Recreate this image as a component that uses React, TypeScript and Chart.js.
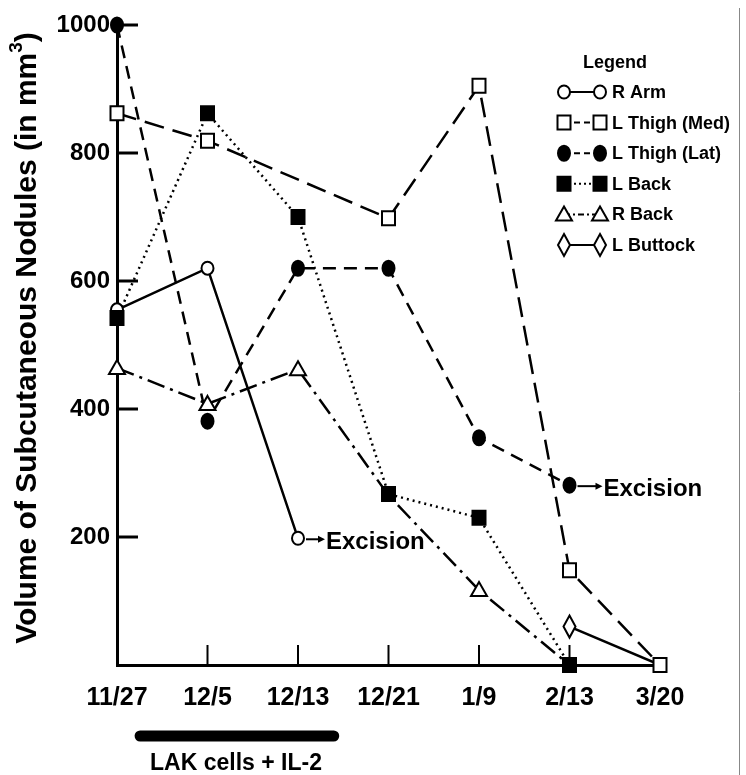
import React, { useEffect, useRef } from "react";
import { Chart, registerables } from "chart.js";

Chart.register(...registerables);

// ---- data ----
const categories = ["11/27", "12/5", "12/13", "12/21", "1/9", "2/13", "3/20"];
const rArm = [555, 620, 198, null, null, null, null];
const lThighMed = [862, 819, null, 698, 905, 148, 0];
const lThighLat = [1000, 381, 620, 620, 355, 281, null];
const lBack = [542, 862, 700, 267, 230, 0, null];
const rBack = [464, 408, 462, 265, 117, 0, null];
const lButtock = [null, null, null, null, null, 60, 0];
const yTickValues = [200, 400, 600, 800, 1000];
const seriesNames = ["R Arm", "L Thigh (Med)", "L Thigh (Lat)", "L Back", "R Back", "L Buttock"];
const excisionNotes = [
  { series: 0, index: 2, text: "Excision", gap: 0 },
  { series: 2, index: 5, text: "Excision", gap: 6 },
];
const treatmentLabel = "LAK cells + IL-2";
const treatmentRange = [0.2, 2.45]; // in category units
const yTitle = "Volume of Subcutaneous Nodules (in mm";

const FONT = '"Liberation Sans", Arial, Helvetica, sans-serif';

type MarkerKind = "circle" | "rect" | "triangle" | "diamond";

function drawMarker(ctx: CanvasRenderingContext2D, kind: MarkerKind, x: number, y: number, filled: boolean) {
  ctx.save();
  ctx.setLineDash([]);
  ctx.lineWidth = 2;
  ctx.strokeStyle = "#000";
  ctx.fillStyle = filled ? "#000" : "#fff";
  ctx.beginPath();
  if (kind === "circle") {
    ctx.ellipse(x, y, 6, filled ? 7.5 : 6.5, 0, 0, Math.PI * 2);
  } else if (kind === "rect") {
    ctx.rect(x - 6.5, y - 7, 13, 14);
  } else if (kind === "triangle") {
    ctx.moveTo(x, y - 8);
    ctx.lineTo(x + 8, y + 6);
    ctx.lineTo(x - 8, y + 6);
    ctx.closePath();
  } else {
    ctx.moveTo(x, y - 11);
    ctx.lineTo(x + 6, y);
    ctx.lineTo(x, y + 11);
    ctx.lineTo(x - 6, y);
    ctx.closePath();
  }
  ctx.fill();
  ctx.stroke();
  ctx.restore();
}

const styles: { kind: MarkerKind; filled: boolean; dash: number[] }[] = [
  { kind: "circle", filled: false, dash: [] },
  { kind: "rect", filled: false, dash: [20, 9] },
  { kind: "circle", filled: true, dash: [13, 8] },
  { kind: "rect", filled: true, dash: [2, 4] },
  { kind: "triangle", filled: false, dash: [18, 6, 3, 6] },
  { kind: "diamond", filled: false, dash: [] },
];
const markerOrder = [0, 2, 4, 5, 1, 3];
const hiddenMarkers: Record<number, number[]> = { 4: [3, 5], 5: [6] };

export default function App() {
  const ref = useRef<HTMLCanvasElement | null>(null);

  useEffect(() => {
    document.body.style.margin = "0";
    document.body.style.background = "#fff";
    const canvas = ref.current!;
    const values = [rArm, lThighMed, lThighLat, lBack, rBack, lButtock];

    const overlay = {
      id: "overlay",
      afterDraw(chart: any) {
        const ctx: CanvasRenderingContext2D = chart.ctx;
        const xs = chart.scales.x;
        const ys = chart.scales.y;
        const area = chart.chartArea;
        ctx.save();
        ctx.strokeStyle = "#000";
        ctx.fillStyle = "#000";
        ctx.setLineDash([]);
        // inward ticks on y axis
        ctx.lineWidth = 3;
        yTickValues.forEach((v) => {
          const y = ys.getPixelForValue(v);
          ctx.beginPath();
          ctx.moveTo(area.left, y);
          ctx.lineTo(area.left + 21, y);
          ctx.stroke();
        });
        // inward ticks on x axis
        ctx.lineWidth = 2;
        for (let i = 1; i < categories.length - 1; i++) {
          const x = xs.getPixelForValue(i);
          ctx.beginPath();
          ctx.moveTo(x, area.bottom);
          ctx.lineTo(x, area.bottom - 20);
          ctx.stroke();
        }
        // markers on top in a fixed order
        markerOrder.forEach((di) => {
          const ds = chart.data.datasets[di];
          const meta = chart.getDatasetMeta(di);
          meta.data.forEach((pt: any, i: number) => {
            if (ds.data[i] === null || ds.data[i] === undefined) return;
            if (hiddenMarkers[di] && hiddenMarkers[di].includes(i)) return;
            drawMarker(ctx, styles[di].kind, pt.x, pt.y, styles[di].filled);
          });
        });

        // excision notes
        excisionNotes.forEach((n) => {
          const x = xs.getPixelForValue(n.index);
          const y = ys.getPixelForValue(values[n.series][n.index] as number);
          const g = n.gap;
          ctx.lineWidth = 2;
          ctx.beginPath();
          ctx.moveTo(x + 8, y + 1);
          ctx.lineTo(x + 22 + g, y + 1);
          ctx.stroke();
          ctx.beginPath();
          ctx.moveTo(x + 27 + g, y + 1);
          ctx.lineTo(x + 20 + g, y - 2.5);
          ctx.lineTo(x + 20 + g, y + 4.5);
          ctx.closePath();
          ctx.fill();
          ctx.font = "bold 24px " + FONT;
          ctx.textAlign = "left";
          ctx.textBaseline = "middle";
          ctx.fillText(n.text, x + 28 + g, y + 4);
        });

        // legend
        ctx.font = "bold 18px " + FONT;
        ctx.textAlign = "left";
        ctx.textBaseline = "middle";
        ctx.fillText("Legend", 583, 63);
        seriesNames.forEach((name, i) => {
          const y = 92 + i * 30.6;
          const x0 = 564;
          const x1 = 600;
          ctx.save();
          ctx.lineWidth = 2;
          ctx.setLineDash(i === 1 ? [6, 4] : i === 2 ? [6, 4] : i === 3 ? [2, 3] : i === 4 ? [6, 3, 2, 3] : []);
          ctx.beginPath();
          ctx.moveTo(x0, y);
          ctx.lineTo(x1, y);
          ctx.stroke();
          ctx.restore();
          drawMarker(ctx, styles[i].kind, x0, y, styles[i].filled);
          drawMarker(ctx, styles[i].kind, x1, y, styles[i].filled);
          ctx.font = "bold 18px " + FONT;
          ctx.fillStyle = "#000";
          ctx.fillText(name, 612, y + 1);
        });

        // treatment bar
        const step = xs.getPixelForValue(1) - xs.getPixelForValue(0);
        const bx0 = xs.getPixelForValue(0) + treatmentRange[0] * step;
        const bx1 = xs.getPixelForValue(0) + treatmentRange[1] * step;
        ctx.lineCap = "round";
        ctx.lineWidth = 11;
        ctx.beginPath();
        ctx.moveTo(bx0 + 5, 736);
        ctx.lineTo(bx1 - 5, 736);
        ctx.stroke();
        ctx.lineCap = "butt";
        ctx.font = "bold 23px " + FONT;
        ctx.textAlign = "center";
        ctx.textBaseline = "middle";
        ctx.fillText(treatmentLabel, 236, 764);

        // y title with superscript, fitted to the reference length
        ctx.save();
        ctx.translate(28, 338);
        ctx.rotate(-Math.PI / 2);
        const base = 24;
        ctx.font = `bold ${base}px ${FONT}`;
        const m1 = ctx.measureText(yTitle).width + ctx.measureText(")").width + base * 0.6;
        const fs = Math.round((base * 620) / m1);
        const ss = Math.round(fs * 0.62);
        ctx.font = `bold ${fs}px ${FONT}`;
        const w1 = ctx.measureText(yTitle).width;
        const w3 = ctx.measureText(")").width;
        ctx.font = `bold ${ss}px ${FONT}`;
        const w2 = ctx.measureText("3").width;
        const total = w1 + w2 + w3;
        let sx = -total / 2;
        ctx.textAlign = "left";
        ctx.textBaseline = "middle";
        ctx.font = `bold ${fs}px ${FONT}`;
        ctx.fillText(yTitle, sx, 0);
        sx += w1;
        ctx.font = `bold ${ss}px ${FONT}`;
        ctx.fillText("3", sx, -fs * 0.38);
        sx += w2;
        ctx.font = `bold ${fs}px ${FONT}`;
        ctx.fillText(")", sx, 0);
        ctx.restore();

        // right frame line
        ctx.strokeStyle = "#888";
        ctx.lineWidth = 1;
        ctx.beginPath();
        ctx.moveTo(739.5, 8);
        ctx.lineTo(739.5, 775);
        ctx.stroke();
        ctx.restore();
      },
    };

    const datasets = values.map((d, i) => ({
      label: seriesNames[i],
      data: d,
      borderColor: "#000",
      backgroundColor: "#000",
      borderWidth: 2.5,
      borderDash: styles[i].dash,
      pointRadius: 0,
      spanGaps: true,
      tension: 0,
    }));

    const chart = new Chart(canvas, {
      type: "line",
      data: { labels: categories, datasets },
      options: {
        animation: false,
        responsive: false,
        events: [],
        layout: { padding: { top: 25, right: 86, left: 0, bottom: 0 } },
        plugins: { legend: { display: false }, tooltip: { enabled: false } },
        scales: {
          x: {
            type: "category",
            offset: false,
            grid: { display: false, drawTicks: false },
            border: { display: true, width: 3, color: "#000" },
            ticks: {
              color: "#000",
              font: { family: FONT, size: 25, weight: "bold" },
              padding: 18,
              maxRotation: 0,
              autoSkip: false,
            },
            afterFit: (s: any) => {
              s.height = 110;
            },
          },
          y: {
            min: 0,
            max: 1000,
            afterBuildTicks: (s: any) => {
              s.ticks = yTickValues.map((v) => ({ value: v }));
            },
            grid: { display: false, drawTicks: false },
            border: { display: true, width: 3, color: "#000" },
            ticks: {
              color: "#000",
              font: { family: FONT, size: 24, weight: "bold" },
              padding: 7,
              callback: (v: any) => String(v),
            },
            afterFit: (s: any) => {
              s.width = 117;
            },
          },
        },
      },
      plugins: [overlay],
    } as any);

    return () => chart.destroy();
  }, []);

  return <canvas ref={ref} width={746} height={775} style={{ display: "block" }} />;
}
